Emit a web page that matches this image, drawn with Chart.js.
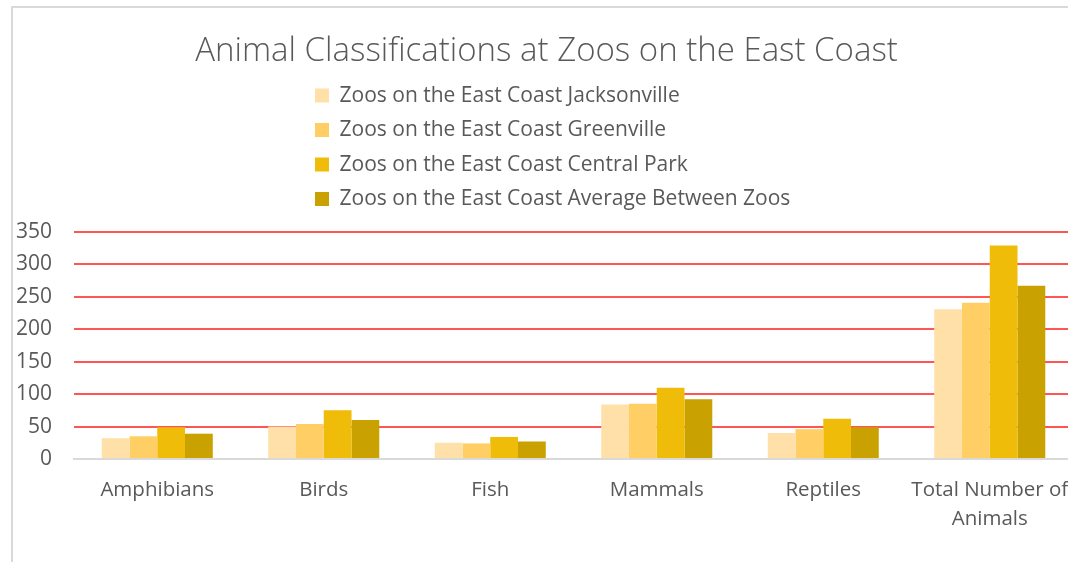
<!DOCTYPE html>
<html>
<head>
<meta charset="utf-8">
<script src="https://cdn.jsdelivr.net/npm/chart.js@4"></script>
<style>
    html, body { margin: 0; padding: 0; background: #fff; overflow: hidden; }
    #frame { position: absolute; left: 11px; top: 6px; width: 1100px; height: 600px;
             border-left: 2px solid #d9d9d9; border-top: 2px solid #d9d9d9; }
    #wrap { position: absolute; left: 0; top: 0; width: 1073px; height: 562px; }
</style>
</head>
<body>
<div id="frame"></div>
<div id="wrap"><canvas id="myChart"></canvas></div>
<script>
// categories and series
var categories = ['Amphibians', 'Birds', 'Fish', 'Mammals', 'Reptiles', ['Total Number of', 'Animals']];
var seriesNames = [
    'Zoos on the East Coast Jacksonville',
    'Zoos on the East Coast Greenville',
    'Zoos on the East Coast Central Park',
    'Zoos on the East Coast Average Between Zoos'
];
var jacksonville = [32, 50, 25, 84, 40, 231];
var greenville = [35, 54, 24, 85, 46, 241];
var centralPark = [49, 75, 34, 110, 62, 329];
var average = [39, 60, 27, 92, 49, 267];
var yMax = 350;
var yMajor = 50;
var yMinor = 10;

var colors = ['#FFE0A8', '#FFCF66', '#F0BC0A', '#C9A100'];
var textColor = '#595959';

// legend: one item per row, block moved to the middle, extra room under it
var legendLayout = {
    id: 'legendLayout',
    beforeLayout: function(chart) {
        var lg = chart.legend;
        if (lg && !lg._patched) {
            var fit = lg.fit;
            lg.fit = function() {
                fit.call(this);
                this.height = 160.4;
            };
            lg._patched = true;
        }
    },
    afterLayout: function(chart) {
        var lg = chart.legend;
        lg.left = 301.5;
        lg.width = 600;
        lg.right = lg.left + lg.width;
        // title sits a little right of the canvas centre
        chart.titleBlock.left = 20;
    }
};

var ctx = document.getElementById('myChart').getContext('2d');

var chart = new Chart(ctx, {
    type: 'bar',
    data: {
        labels: categories,
        datasets: [jacksonville, greenville, centralPark, average].map(function(values, i) {
            return {
                label: seriesNames[i],
                data: values,
                backgroundColor: colors[i],
                borderWidth: 0,
                categoryPercentage: 0.667,
                barPercentage: 1
            };
        })
    },
    options: {
        responsive: true,
        maintainAspectRatio: false,
        animation: false,
        layout: { padding: 0 },
        plugins: {
            title: {
                display: true,
                text: 'Animal Classifications at Zoos on the East Coast',
                color: textColor,
                font: { family: 'Open Sans', size: 33, weight: 300 },
                padding: { top: 32, bottom: 0 }
            },
            legend: {
                position: 'top',
                align: 'start',
                labels: {
                    color: textColor,
                    font: { family: 'Open Sans', size: 21 },
                    boxWidth: 14,
                    boxHeight: 14,
                    padding: 13.5
                }
            },
            tooltip: { enabled: false }
        },
        scales: {
            x: {
                grid: { display: false, drawTicks: false },
                border: { display: true, color: '#d9d9d9', width: 2 },
                ticks: {
                    color: textColor,
                    font: { family: 'Open Sans', size: 20.5, lineHeight: 1.4 },
                    padding: 17,
                    maxRotation: 0,
                    autoSkip: false
                },
                afterFit: function(scale) {
                    scale.height = 103;
                    scale.paddingLeft = 0;
                    scale.paddingRight = 0;
                }
            },
            y: {
                min: 0,
                max: yMax,
                grid: {
                    drawTicks: false,
                    color: function(c) {
                        if (c.tick.value === 0) return 'rgba(0,0,0,0)';
                        return c.tick.value % yMajor === 0 ? '#FF5555' : '#F2F2F2';
                    },
                    lineWidth: function(c) {
                        return c.tick.value % yMajor === 0 ? 2 : 1.5;
                    }
                },
                border: { display: false },
                ticks: {
                    stepSize: yMinor,
                    maxTicksLimit: 100,
                    autoSkip: false,
                    color: textColor,
                    font: { family: 'Open Sans', size: 21 },
                    padding: 22,
                    callback: function(v) {
                        return v % yMajor === 0 ? v : null;
                    }
                },
                afterFit: function(scale) { scale.width = 74; }
            }
        }
    },
    plugins: [legendLayout]
});
</script>
</body>
</html>
